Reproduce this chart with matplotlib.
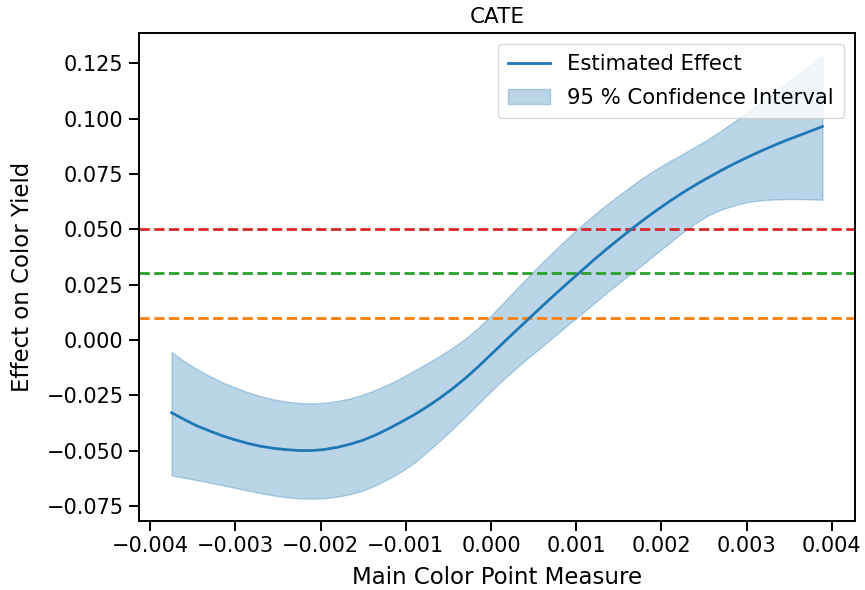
import matplotlib
matplotlib.use("Agg")
import matplotlib.pyplot as plt

# ---- data ----
x_vals = [-0.00375, -0.0036, -0.00345, -0.0033, -0.00315, -0.0030, -0.00285, -0.0027,
          -0.00255, -0.0024, -0.00225, -0.0021, -0.00195, -0.0018, -0.00165, -0.0015,
          -0.00135, -0.0012, -0.00105, -0.0009, -0.00075, -0.0006, -0.00045, -0.0003,
          -0.00015, 0.0, 0.00015, 0.0003, 0.00045, 0.0006, 0.00075, 0.0009,
          0.00105, 0.0012, 0.00135, 0.0015, 0.00165, 0.0018, 0.00195, 0.0021,
          0.00225, 0.0024, 0.00255, 0.0027, 0.00285, 0.0030, 0.00315, 0.0033,
          0.00345, 0.0036, 0.00375, 0.00389]
effect = [-0.0329, -0.0360, -0.0389, -0.0412, -0.0434, -0.0452, -0.0468, -0.0481,
          -0.0490, -0.0496, -0.0500, -0.0500, -0.0495, -0.0485, -0.0471, -0.0453,
          -0.0429, -0.0401, -0.0370, -0.0338, -0.0302, -0.0263, -0.0220, -0.0173,
          -0.0121, -0.0066, -0.0011, 0.0044, 0.0098, 0.0152, 0.0205, 0.0257,
          0.0308, 0.0359, 0.0408, 0.0455, 0.0501, 0.0545, 0.0587, 0.0627,
          0.0665, 0.0700, 0.0733, 0.0765, 0.0795, 0.0823, 0.0850, 0.0875,
          0.0899, 0.0921, 0.0943, 0.0964]
upper = [-0.0055, -0.0097, -0.0133, -0.0164, -0.0192, -0.0216, -0.0237, -0.0255,
         -0.0269, -0.0279, -0.0285, -0.0287, -0.0284, -0.0276, -0.0264, -0.0247,
         -0.0225, -0.0200, -0.0171, -0.0139, -0.0106, -0.0072, -0.0035, 0.0006,
         0.0054, 0.0110, 0.0170, 0.0231, 0.0291, 0.0349, 0.0405, 0.0460,
         0.0513, 0.0562, 0.0609, 0.0653, 0.0696, 0.0737, 0.0774, 0.0808,
         0.0840, 0.0873, 0.0907, 0.0945, 0.0985, 0.1025, 0.1066, 0.1109,
         0.1153, 0.1197, 0.1241, 0.1286]
lower = [-0.0612, -0.0623, -0.0634, -0.0645, -0.0657, -0.0669, -0.0681, -0.0693,
         -0.0703, -0.0711, -0.0716, -0.0718, -0.0715, -0.0708, -0.0697, -0.0680,
         -0.0656, -0.0627, -0.0594, -0.0555, -0.0506, -0.0455, -0.0402, -0.0346,
         -0.0289, -0.0232, -0.0177, -0.0126, -0.0077, -0.0029, 0.0019, 0.0067,
         0.0114, 0.0162, 0.0210, 0.0257, 0.0302, 0.0347, 0.0393, 0.0440,
         0.0486, 0.0527, 0.0563, 0.0588, 0.0607, 0.0622, 0.0630, 0.0634,
         0.0636, 0.0636, 0.0635, 0.0633]
thresholds = [0.05, 0.03, 0.01]
threshold_colors = ["#d62728", "#2ca02c", "#ff7f0e"]

title = "CATE"
xlabel = "Main Color Point Measure"
ylabel = "Effect on Color Yield"
line_label = "Estimated Effect"
band_label = "95 % Confidence Interval"

# ---- figure ----
plt.rcParams["font.family"] = ["DejaVu Sans"]
fig = plt.figure(figsize=(8.65, 5.90), dpi=100)
ax = fig.add_axes([0.1607, 0.117, 0.8277, 0.827])

ax.plot(x_vals, effect, color="#1f77b4", lw=2.0, label=line_label, zorder=3)
ax.fill_between(x_vals, lower, upper, color="#1f77b4", alpha=0.3,
                label=band_label, zorder=2)
for t, c in zip(thresholds, threshold_colors):
    ax.axhline(t, color=c, ls="--", lw=2.0, zorder=2.5)

ax.set_title(title, fontsize=15.5, pad=7)
ax.set_xlabel(xlabel, fontsize=16.5, labelpad=7)
ax.set_ylabel(ylabel, fontsize=16.5, labelpad=9)

ax.set_xticks([-0.004, -0.003, -0.002, -0.001, 0.0, 0.001, 0.002, 0.003, 0.004])
ax.set_yticks([-0.075, -0.05, -0.025, 0.0, 0.025, 0.05, 0.075, 0.1, 0.125])
ax.tick_params(axis="both", labelsize=15, length=7, width=1.4, pad=4)
for s in ax.spines.values():
    s.set_linewidth(1.4)

leg = ax.legend(loc="upper right", fontsize=15.2, framealpha=0.8,
                borderpad=0.5, labelspacing=0.65, handlelength=2.0)

fig.savefig("out.png", dpi=100)
